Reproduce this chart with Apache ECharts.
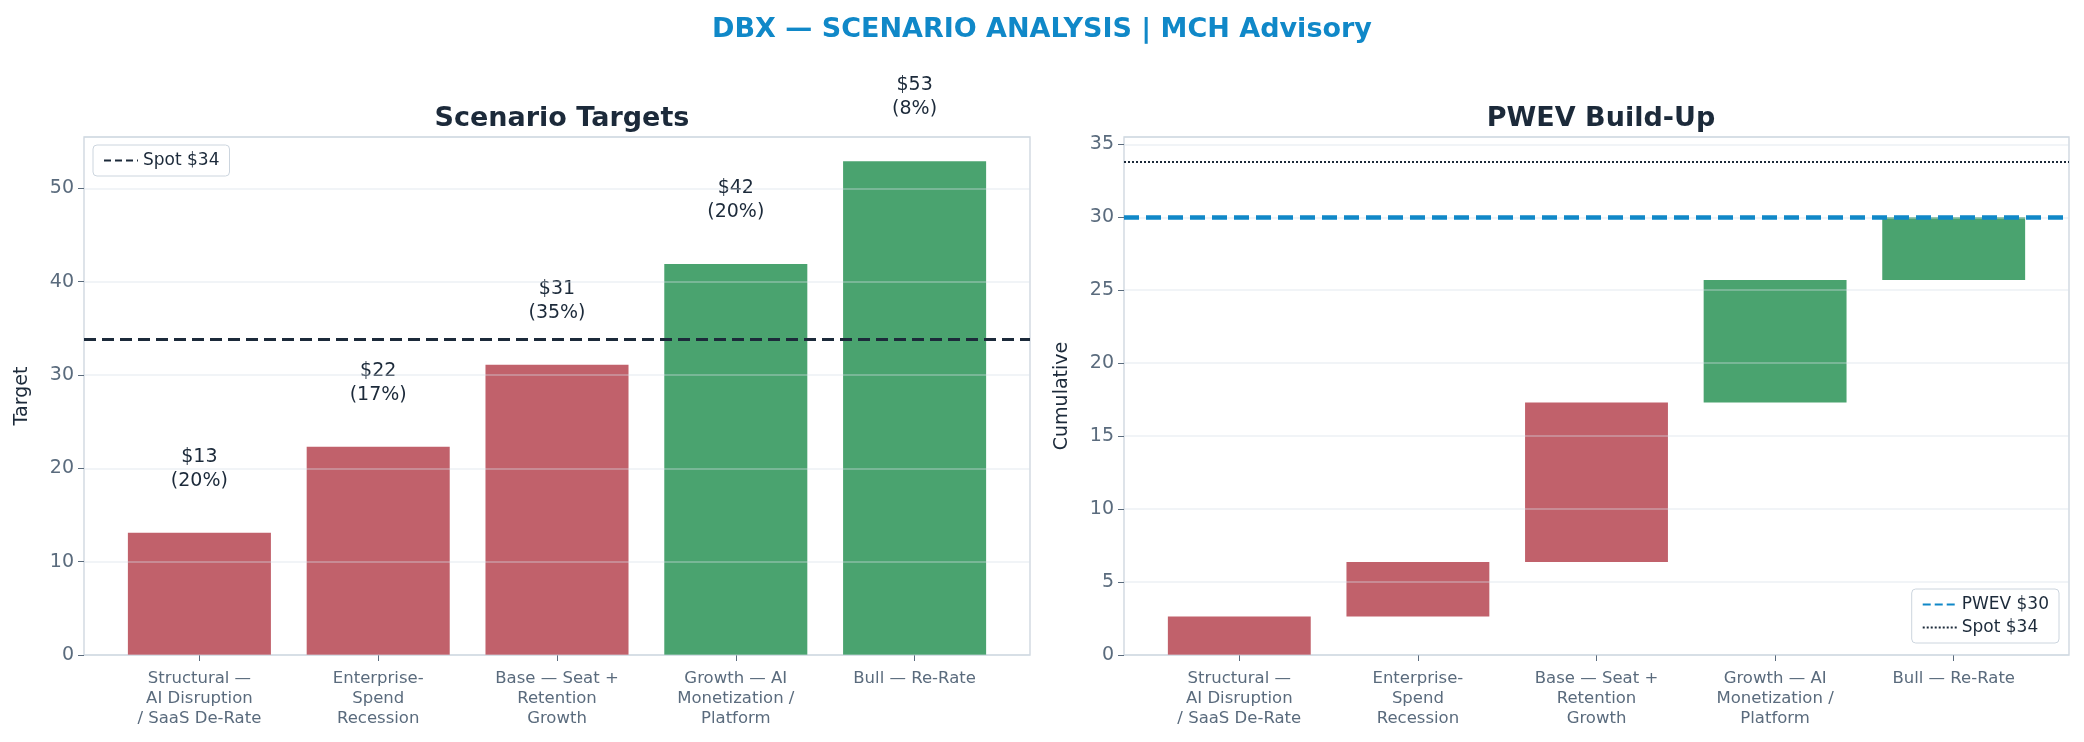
<!DOCTYPE html>
<html><head><meta charset="utf-8">
<script src="https://cdn.jsdelivr.net/npm/echarts@6/dist/echarts.min.js"></script>
<style>html,body{margin:0;background:#fff}#c{width:2084px;height:742px}</style>
</head><body><div id="c"></div>
<script>
const categories = ["Structural —\nAI Disruption\n/ SaaS De-Rate", "Enterprise-\nSpend\nRecession", "Base — Seat +\nRetention\nGrowth", "Growth — AI\nMonetization /\nPlatform", "Bull — Re-Rate"];
const targets = [13.1, 22.3, 31.1, 41.9, 52.9];
const probs = ["20%", "17%", "35%", "20%", "8%"];
const cumStart = [0, 2.64, 6.38, 17.3, 25.7];
const cumEnd = [2.64, 6.38, 17.3, 25.7, 30.0];
const spot = 33.8, pwev = 30.0;
const RED = "#c1616b", GREEN = "#4aa36f";
const FONT = "DejaVu Sans";
const colorOf = i => i < 3 ? RED : GREEN;
const chart = echarts.init(document.getElementById("c"));

const axisLbl = {color: "#5a6b7d", fontSize: 19, fontFamily: FONT, showMaxLabel: false, margin: 10};
const xLbl = {color: "#5a6b7d", fontSize: 16.5, fontFamily: FONT, lineHeight: 20, interval: 0, margin: 14};
const legendBase = {orient: "vertical", itemGap: 6, itemWidth: 34, itemHeight: 12, padding: [7, 10], borderColor: "#ccd5de", borderWidth: 1, borderRadius: 4,
  itemStyle: {opacity: 0}, textStyle: {fontSize: 17, color: "#1c2a3a", fontFamily: FONT}};
const subTitle = {color: "#1c2a3a", fontSize: 27, fontWeight: "bold", fontFamily: FONT};
const TOP = 137, BOTTOM = 87;
const yMax = [55.5, 35.5], yStep = [10, 5], yName = ["Target", "Cumulative"];

// outer grid = frame, tick labels, grid lines, reference lines; inner grid = bars (side margins)
const grids = [
  {left: 84, right: 1054, top: TOP, bottom: BOTTOM, show: true, borderColor: "#ccd5de", borderWidth: 1.3},
  {left: 110, right: 1080, top: TOP, bottom: BOTTOM},
  {left: 1124, right: 15, top: TOP, bottom: BOTTOM, show: true, borderColor: "#ccd5de", borderWidth: 1.3},
  {left: 1150, right: 41, top: TOP, bottom: BOTTOM}
];
const xAxes = grids.map((g, i) => i % 2 === 0
  ? {type: "category", gridIndex: i, data: categories, show: false}
  : {type: "category", gridIndex: i, data: categories, axisLine: {show: false},
     axisTick: {show: true, alignWithLabel: true, length: 6, lineStyle: {color: "#5a6b7d"}}, axisLabel: xLbl});
const yAxes = grids.map((g, i) => {
  const k = i >> 1;
  return i % 2 === 0
    ? {gridIndex: i, min: 0, max: yMax[k], interval: yStep[k], z: 3, name: yName[k], nameLocation: "middle", nameGap: 52,
       nameTextStyle: {fontSize: 19, color: "#1c2a3a", fontFamily: FONT}, axisLabel: axisLbl, axisLine: {show: false},
       axisTick: {show: true, length: 6, lineStyle: {color: "#5a6b7d"}},
       splitLine: {show: true, lineStyle: {color: "rgba(215,222,230,0.45)", width: 1.5}}}
    : {gridIndex: i, min: 0, max: yMax[k], interval: yStep[k], show: false};
});

chart.setOption({
  animation: false,
  textStyle: {fontFamily: FONT},
  title: [
    {text: "DBX — SCENARIO ANALYSIS | MCH Advisory", left: "center", top: 11, textStyle: {color: "#1088c8", fontSize: 27, fontWeight: "bold", fontFamily: FONT}},
    {text: "Scenario Targets", left: 557, textAlign: "center", top: 100, textStyle: subTitle},
    {text: "PWEV Build-Up", left: 1596, textAlign: "center", top: 100, textStyle: subTitle}
  ],
  legend: [
    Object.assign({data: ["Spot $34"], left: 93, top: 145}, legendBase),
    Object.assign({data: ["PWEV $30", "Spot $34 "], right: 25, top: 589}, legendBase)
  ],
  grid: grids,
  xAxis: xAxes,
  yAxis: yAxes,
  series: [
    {type: "bar", xAxisIndex: 1, yAxisIndex: 1, barWidth: "80%",
      data: targets.map((v, i) => ({value: v, itemStyle: {color: colorOf(i)}})),
      label: {show: true, position: "top", distance: 40, color: "#1c2a3a", fontSize: 19, lineHeight: 24, align: "center", fontFamily: FONT,
        formatter: p => "$" + Math.round(p.value) + "\n(" + probs[p.dataIndex] + ")"}},
    {type: "line", name: "Spot $34", xAxisIndex: 0, yAxisIndex: 0, data: [], symbol: "none", lineStyle: {color: "#1c2a3a", type: [7, 4], width: 3}, itemStyle: {color: "#1c2a3a"},
      markLine: {symbol: "none", silent: true, label: {show: false}, lineStyle: {color: "#1c2a3a", type: [12, 6], width: 3}, data: [{yAxis: spot}]}},
    {type: "bar", xAxisIndex: 3, yAxisIndex: 3, stack: "w", barWidth: "80%", data: cumStart, itemStyle: {color: "transparent"}, silent: true},
    {type: "bar", xAxisIndex: 3, yAxisIndex: 3, stack: "w", barWidth: "80%",
      data: cumEnd.map((v, i) => ({value: +(v - cumStart[i]).toFixed(2), itemStyle: {color: colorOf(i)}}))},
    {type: "line", name: "PWEV $30", xAxisIndex: 2, yAxisIndex: 2, data: [], symbol: "none", lineStyle: {color: "#1088c8", type: [8, 4], width: 4}, itemStyle: {color: "#1088c8"},
      markLine: {symbol: "none", silent: true, label: {show: false}, lineStyle: {color: "#1088c8", type: [15, 7], width: 4.5}, data: [{yAxis: pwev}]}},
    {type: "line", name: "Spot $34 ", xAxisIndex: 2, yAxisIndex: 2, data: [], symbol: "none", lineStyle: {color: "#1c2a3a", type: [2, 2], width: 1.8}, itemStyle: {color: "#1c2a3a"},
      markLine: {symbol: "none", silent: true, label: {show: false}, lineStyle: {color: "#1c2a3a", type: [2, 2], width: 1.8}, data: [{yAxis: spot}]}}
  ]
});
</script></body></html>
